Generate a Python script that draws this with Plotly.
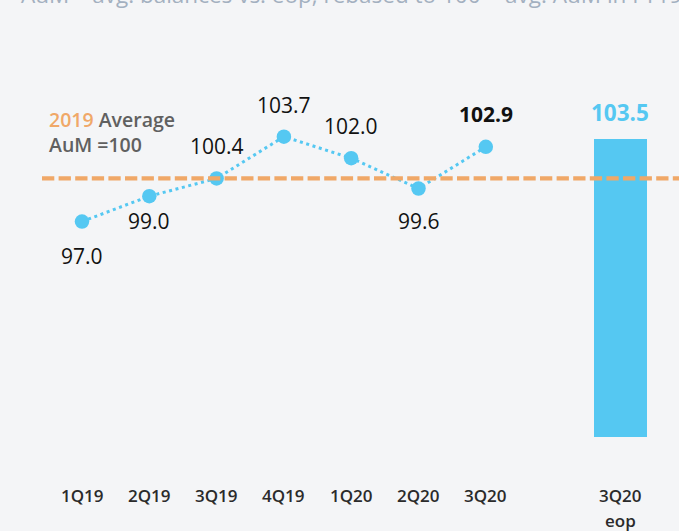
import plotly.graph_objects as go

# ---- data ----
QUARTERS = ["1Q19", "2Q19", "3Q19", "4Q19", "1Q20", "2Q20", "3Q20"]
AVG_AUM = [97.0, 99.0, 100.4, 103.7, 102.0, 99.6, 102.9]
EOP_LABEL = "3Q20"
EOP_SUB = "eop"
EOP_VALUE = 103.5
BASELINE = 100.4
TITLE = "AuM – avg. balances vs. eop, rebased to 100 = avg. AuM in FY19"

# ---- style ----
LABEL_SHIFT = [-34, -25, 32, 32, 32, -32, 33]   # px offset of each value label
BLUE = "#55c8f2"
ORANGE = "#f0a868"
BG = "#f4f5f7"
FONT = "Open Sans, Noto Sans, sans-serif"

W, H = 679, 531
PLOT_TOP, PLOT_BOTTOM = 40, 437.5
PLOT_H = PLOT_BOTTOM - PLOT_TOP
PX_PER_UNIT = 12.69
X0_PX, STEP_PX, LEFT_PX = 82, 67.3, 42


def paper_y(px):
    return (PLOT_BOTTOM - px) / PLOT_H


def paper_x(px):
    return (px - LEFT_PX) / (W - LEFT_PX)


x_line = list(range(len(QUARTERS)))
x_bar = len(QUARTERS) + 1

fig = go.Figure()

fig.add_trace(go.Bar(
    x=[x_bar], y=[EOP_VALUE - 80], base=[80], width=0.79,
    marker=dict(color=BLUE, line=dict(width=0)),
    hoverinfo="skip", showlegend=False,
))

fig.add_shape(type="line", xref="paper", x0=0, x1=1, yref="y", y0=BASELINE, y1=BASELINE,
              line=dict(color=ORANGE, width=4.3, dash="12.3px,4.3px"), layer="above")

fig.add_trace(go.Scatter(
    x=x_line, y=AVG_AUM, mode="lines+markers",
    line=dict(color=BLUE, width=3, dash="3px,3.6px"),
    marker=dict(color=BLUE, size=14.5),
    hoverinfo="skip", showlegend=False,
))

ann = []
for i, (v, sh) in enumerate(zip(AVG_AUM, LABEL_SHIFT)):
    last = i == len(AVG_AUM) - 1
    ann.append(dict(
        x=i, y=v, xref="x", yref="y", showarrow=False,
        text=f"<b>{v:.1f}</b>" if last else f"{v:.1f}",
        yshift=sh,
        font=dict(size=21, color="#111111", family=FONT),
    ))
ann.append(dict(x=x_bar, y=EOP_VALUE, xref="x", yref="y", showarrow=False,
                text=f"<b>{EOP_VALUE:.1f}</b>", yshift=27,
                font=dict(size=22.5, color=BLUE, family=FONT)))

ticks = QUARTERS + [EOP_LABEL]
tick_x = x_line + [x_bar]
for tx, t in zip(tick_x, ticks):
    ann.append(dict(x=tx, y=80, xref="x", yref="y", showarrow=False, text=t,
                    yshift=-58, font=dict(size=17, color="#2b2b2b", family=FONT, weight=600)))
ann.append(dict(x=x_bar, y=80, xref="x", yref="y", showarrow=False, text=EOP_SUB,
                yshift=-83, font=dict(size=17, color="#2b2b2b", family=FONT, weight=600)))

ann.append(dict(xref="paper", yref="paper", x=paper_x(47), y=paper_y(119.5),
                xanchor="left", yanchor="middle", align="left", showarrow=False,
                text=f"<span style='color:{ORANGE}'>2019</span> Average",
                font=dict(size=19.5, color="#606060", family=FONT, weight=600)))
ann.append(dict(xref="paper", yref="paper", x=paper_x(47), y=paper_y(144.5),
                xanchor="left", yanchor="middle", align="left", showarrow=False,
                text="AuM =100",
                font=dict(size=19.5, color="#606060", family=FONT, weight=600)))
ann.append(dict(xref="paper", yref="paper", x=paper_x(351), y=paper_y(-6),
                xanchor="center", yanchor="middle", showarrow=False,
                text=TITLE, font=dict(size=22.5, color="#a3b0c0", family=FONT)))

x_lo = (LEFT_PX - X0_PX) / STEP_PX
x_hi = (W - X0_PX) / STEP_PX

fig.update_layout(
    width=W, height=H,
    margin=dict(l=LEFT_PX, r=0, t=PLOT_TOP, b=H - PLOT_BOTTOM),
    paper_bgcolor=BG, plot_bgcolor=BG,
    xaxis=dict(range=[x_lo, x_hi], showgrid=False, zeroline=False,
               showticklabels=False, fixedrange=True),
    yaxis=dict(range=[80, 80 + PLOT_H / PX_PER_UNIT], showgrid=False, zeroline=False,
               showticklabels=False, fixedrange=True),
    annotations=ann,
    bargap=0,
)

fig.write_html(
    "out.html",
    config={"displayModeBar": False, "staticPlot": True},
    post_script="document.body.style.margin='0';document.body.style.overflow='hidden';"
                "document.body.style.background='%s';" % BG,
)
